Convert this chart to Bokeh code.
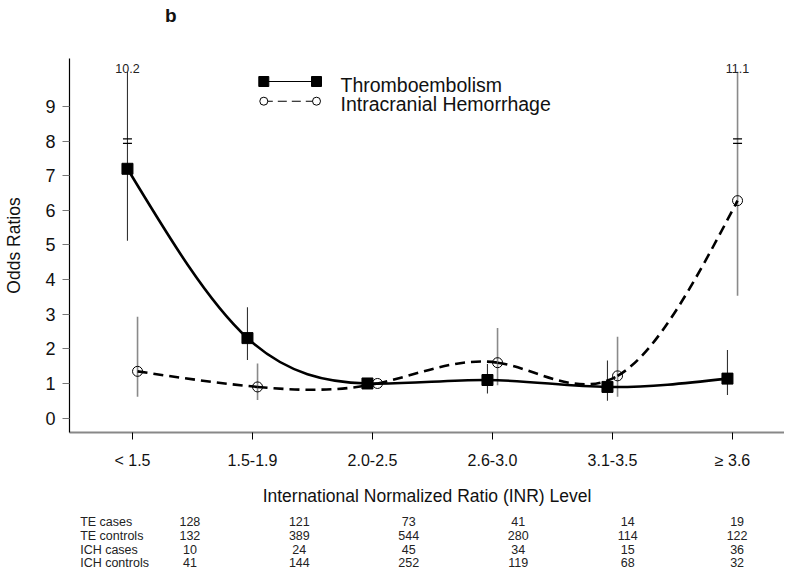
import numpy as np
from bokeh.plotting import figure
from bokeh.layouts import column
from bokeh.models import FixedTicker, Label, Range1d, ColumnDataSource
from bokeh.core.properties import value
from bokeh.embed import file_html
from bokeh.resources import INLINE

# ---------------- data ----------------
categories = ["< 1.5", "1.5-1.9", "2.0-2.5", "2.6-3.0", "3.1-3.5", "\u2265 3.6"]

te_or = [7.2, 2.31, 1.0, 1.1, 0.9, 1.14]
te_lower = [5.12, 1.68, None, 0.71, 0.50, 0.67]
te_upper = [10.2, 3.20, None, 1.56, 1.66, 1.97]

ich_or = [1.35, 0.90, 1.0, 1.60, 1.22, 6.28]
ich_lower = [0.62, 0.52, None, 0.95, 0.62, 3.53]
ich_upper = [2.93, 1.58, None, 2.60, 2.35, 11.1]

table_rows = ["TE cases", "TE controls", "ICH cases", "ICH controls"]
te_cases = [128, 121, 73, 41, 14, 19]
te_controls = [132, 389, 544, 280, 114, 122]
ich_cases = [10, 24, 45, 34, 15, 36]
ich_controls = [41, 144, 252, 119, 68, 32]
table_values = [te_cases, te_controls, ich_cases, ich_controls]

y_ticks = [0, 1, 2, 3, 4, 5, 6, 7, 8, 9]
axis_break = 8.0   # values above this are drawn on a broken (compressed) scale
axis_cap = 10.0    # where truncated CI whiskers end

# ---------------- layout ----------------
W = 784
H_HEAD, H_MAIN, H_TAB = 28, 480, 61
FL, FW, FH = 69, 715, 374
FT = 58 - H_HEAD
X0, X1 = -0.525, 5.4333
Y0, Y1 = -0.416, 10.385
FONT = "Liberation Sans"


def dx(cx):
    return X0 + (cx - FL) / FW * (X1 - X0)


def dy(cy_page):
    cy = cy_page - H_HEAD
    return Y1 - (cy - FT) / FH * (Y1 - Y0)


TE_OFF = -0.042
ICH_OFF = 0.042


def blank_fig(height, yr):
    f = figure(width=W, height=height, output_backend="svg", toolbar_location=None,
               x_range=Range1d(dx(0), dx(W)), y_range=Range1d(*yr),
               min_border=0, x_axis_type=None, y_axis_type=None)
    f.outline_line_color = None
    f.grid.visible = False
    f.background_fill_color = "white"
    f.border_fill_color = "white"
    return f


# ---------------- header with panel letter ----------------
hd = blank_fig(H_HEAD, (H_HEAD, 0))
hd.text(x=[dx(111)], y=[15], text=["b"], text_align="center", text_baseline="middle",
        text_font=value(FONT), text_font_size="19px", text_font_style="bold",
        text_color="#111111")

# ---------------- main chart ----------------
p = figure(width=W, height=H_MAIN, output_backend="svg", toolbar_location=None,
           x_range=Range1d(X0, X1), y_range=Range1d(Y0, Y1),
           min_border_left=FL, min_border_right=0, min_border_top=FT,
           min_border_bottom=H_MAIN - FT - FH)
p.title.visible = False
p.outline_line_color = None
p.grid.visible = False
p.background_fill_color = "white"
p.border_fill_color = "white"

xa = p.xaxis[0]
xa.ticker = FixedTicker(ticks=list(range(len(categories))))
xa.major_label_overrides = {i: c for i, c in enumerate(categories)}
xa.minor_tick_line_color = None
xa.axis_line_color = "#888888"
xa.axis_line_width = 2
xa.major_tick_line_color = "black"
xa.major_tick_out = 7
xa.major_tick_in = 0
xa.major_label_standoff = 12
xa.major_label_text_font = FONT
xa.major_label_text_font_size = "16px"
xa.major_label_text_color = "#111111"
xa.axis_label = "International Normalized Ratio (INR) Level"
xa.axis_label_text_font = FONT
xa.axis_label_text_font_size = "17.5px"
xa.axis_label_text_font_style = "normal"
xa.axis_label_text_color = "#111111"
xa.axis_label_standoff = 14

ya = p.yaxis[0]
ya.ticker = FixedTicker(ticks=y_ticks)
ya.minor_tick_line_color = None
ya.axis_line_color = "black"
ya.axis_line_width = 1.2
ya.major_tick_line_color = "#777777"
ya.major_tick_out = 7
ya.major_tick_in = 0
ya.major_label_standoff = 7
ya.major_label_text_font = FONT
ya.major_label_text_font_size = "18px"
ya.major_label_text_color = "#111111"
ya.axis_label = "Odds Ratios"
ya.axis_label_text_font = FONT
ya.axis_label_text_font_size = "17.5px"
ya.axis_label_text_font_style = "normal"
ya.axis_label_text_color = "#111111"
ya.axis_label_standoff = 18


def natural_spline_beziers(xs, ys):
    xs = np.asarray(xs, float)
    ys = np.asarray(ys, float)
    n = len(xs)
    h = np.diff(xs)
    A = np.zeros((n, n))
    b = np.zeros(n)
    A[0, 0] = 1
    A[-1, -1] = 1
    for i in range(1, n - 1):
        A[i, i - 1] = h[i - 1]
        A[i, i] = 2 * (h[i - 1] + h[i])
        A[i, i + 1] = h[i]
        b[i] = 6 * ((ys[i + 1] - ys[i]) / h[i] - (ys[i] - ys[i - 1]) / h[i - 1])
    M = np.linalg.solve(A, b)
    segs = dict(x0=[], y0=[], x1=[], y1=[], cx0=[], cy0=[], cx1=[], cy1=[])
    for i in range(n - 1):
        hi = h[i]
        s = (ys[i + 1] - ys[i]) / hi
        mL = s - hi * (2 * M[i] + M[i + 1]) / 6
        mR = s + hi * (M[i] + 2 * M[i + 1]) / 6
        segs["x0"].append(xs[i]); segs["y0"].append(ys[i])
        segs["x1"].append(xs[i + 1]); segs["y1"].append(ys[i + 1])
        segs["cx0"].append(xs[i] + hi / 3); segs["cy0"].append(ys[i] + mL * hi / 3)
        segs["cx1"].append(xs[i + 1] - hi / 3); segs["cy1"].append(ys[i + 1] - mR * hi / 3)
    return segs


idx = np.arange(len(categories))
te_x = idx + TE_OFF
ich_x = idx + ICH_OFF


def ci_segments(xs, lo, hi):
    sx, sy0, sy1, brk = [], [], [], []
    for x, l, u in zip(xs, lo, hi):
        if l is None or u is None:
            continue
        sx.append(x)
        sy0.append(l)
        sy1.append(min(u, axis_cap))
        if u > axis_cap:
            brk.append(x)
    return sx, sy0, sy1, brk


# CI whiskers
tx, tl, tu, tbrk = ci_segments(te_x, te_lower, te_upper)
p.segment(x0=tx, y0=tl, x1=tx, y1=tu, line_color="#333333", line_width=1.1)
ix, il, iu, ibrk = ci_segments(ich_x, ich_lower, ich_upper)
p.segment(x0=ix, y0=il, x1=ix, y1=iu, line_color="#8a8a8a", line_width=1.6)

# axis-break marks on truncated whiskers
brk_x = tbrk + ibrk
bh = 0.065
p.scatter(x=brk_x * 2, y=[axis_break + bh] * len(brk_x) + [axis_break - bh] * len(brk_x),
          marker="dash", size=9, line_color="black", line_width=1.3)

# fitted curves
te_b = natural_spline_beziers(te_x, te_or)
p.bezier(line_color="black", line_width=2.6, **te_b)
ich_b = natural_spline_beziers(ich_x, ich_or)
p.bezier(line_color="black", line_width=2.6, line_dash="10 6", **ich_b)

# markers
p.scatter(x=te_x, y=te_or, marker="square", size=11, fill_color="black", line_color="black")
p.scatter(x=ich_x, y=ich_or, marker="circle", size=10, fill_color=None,
          line_color="black", line_width=1)

# truncated upper CI values
for xs_, ups in ((te_x, te_upper), (ich_x, ich_upper)):
    for x, u in zip(xs_, ups):
        if u is not None and u > axis_cap:
            p.add_layout(Label(x=x, y=dy(67.5), text=f"{u}", text_align="center",
                               text_baseline="middle", text_font=FONT,
                               text_font_size="12.5px", text_color="#222222"))

# legend (drawn by hand: marker - line - marker)
lx0, lx1 = dx(263.3), dx(316)
ly1, ly2 = dy(81), dy(100.7)
p.segment(x0=[lx0], y0=[ly1], x1=[lx1], y1=[ly1], line_color="black", line_width=1.1)
p.scatter(x=[lx0, lx1], y=[ly1, ly1], marker="square", size=10, fill_color="black",
          line_color="black")
p.segment(x0=[lx0], y0=[ly2], x1=[lx1], y1=[ly2], line_color="black", line_width=1.1,
          line_dash="9 5")
p.scatter(x=[lx0, lx1], y=[ly2, ly2], marker="circle", size=8, fill_color="white",
          line_color="black", line_width=1)
p.add_layout(Label(x=dx(340), y=dy(84), text="Thromboembolism", text_align="left",
                   text_baseline="middle", text_font=FONT, text_font_size="19.5px",
                   text_color="#111111"))
p.add_layout(Label(x=dx(340), y=dy(103.5), text="Intracranial Hemorrhage", text_align="left",
                   text_baseline="middle", text_font=FONT, text_font_size="19.5px",
                   text_color="#111111"))

# ---------------- counts table (same x scale) ----------------
t = blank_fig(H_TAB, (H_TAB, 0))
row_y = [13, 27, 41, 54]
names_src = ColumnDataSource(dict(x=[dx(11.7)] * len(table_rows), y=row_y, text=table_rows))
t.text(x="x", y="y", text="text", source=names_src, text_align="left",
       text_baseline="middle", text_font=value(FONT), text_font_size="12.5px",
       text_color="#222222")
cx, cy, ct = [], [], []
for vals, yy in zip(table_values, row_y):
    for i, v in enumerate(vals):
        cx.append(float(i)); cy.append(yy); ct.append(str(v))
t.text(x="x", y="y", text="text", source=ColumnDataSource(dict(x=cx, y=cy, text=ct)),
       text_align="center", text_baseline="middle", text_font=value(FONT),
       text_font_size="12.5px", text_color="#222222")

layout = column(hd, p, t, spacing=0)
open("out.html", "w").write(file_html(layout, INLINE))
